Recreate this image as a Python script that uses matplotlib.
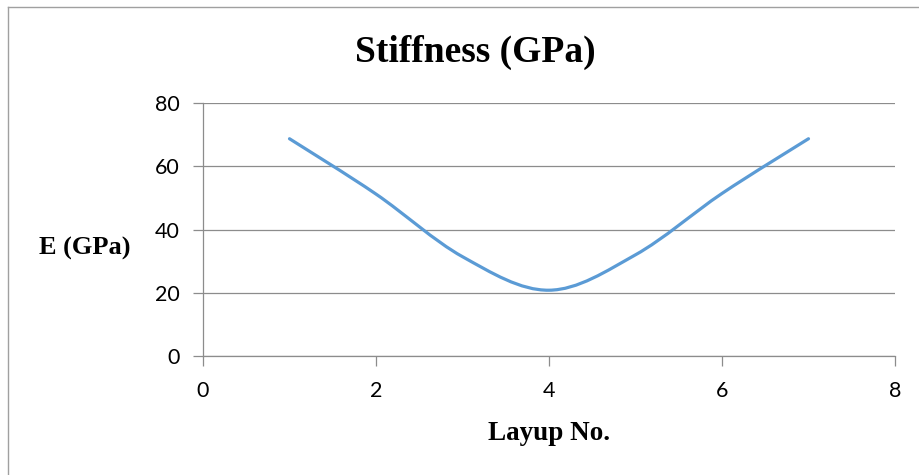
#!/usr/bin/env python3
"""Stiffness vs layup number, Excel-style smoothed scatter line."""

import numpy as np
import matplotlib
matplotlib.use("Agg")
import matplotlib.pyplot as plt
from matplotlib.path import Path
from matplotlib.patches import PathPatch

# data
layup_no = [1, 2, 3, 4, 5, 6, 7]
stiffness = [68.7, 51.2, 31.4, 20.8, 32.0, 51.4, 68.7]

x_ticks = [0, 2, 4, 6, 8]
y_ticks = [0, 20, 40, 60, 80]

title_text = "Stiffness (GPa)"
x_label = "Layup No."
y_label = "E (GPa)"

LINE_COLOR = "#5B9BD5"
GRID_COLOR = "#8C8C8C"
SERIF = "Liberation Serif"
SANS = "Lato"


def smooth_path(xs, ys):
    """Catmull-Rom style bezier path through the points (like Excel's smoothed line)."""
    pts = np.column_stack([xs, ys]).astype(float)
    ext = np.vstack([pts[0], pts, pts[-1]])
    verts = [pts[0]]
    codes = [Path.MOVETO]
    for i in range(1, len(ext) - 2):
        p0, p1, p2, p3 = ext[i - 1], ext[i], ext[i + 1], ext[i + 2]
        c1 = p1 + (p2 - p0) / 6.0
        c2 = p2 - (p3 - p1) / 6.0
        verts += [c1, c2, p2]
        codes += [Path.CURVE4] * 3
    return Path(verts, codes)


fig = plt.figure(figsize=(9.2, 4.75), dpi=100)
ax = fig.add_axes([203 / 920, 1 - 356 / 475, (895 - 203) / 920, (356 - 103) / 475])

patch = PathPatch(smooth_path(layup_no, stiffness), facecolor="none",
                  edgecolor=LINE_COLOR, lw=2.3, capstyle="round", zorder=3)
ax.add_patch(patch)

ax.set_xlim(x_ticks[0], x_ticks[-1])
ax.set_ylim(y_ticks[0], y_ticks[-1])
ax.set_xticks(x_ticks)
ax.set_yticks(y_ticks)
ax.tick_params(axis="both", direction="out", length=7, width=0.9,
               color=GRID_COLOR, labelsize=15.5)
ax.tick_params(axis="y", pad=10)
ax.tick_params(axis="x", pad=11)
for lab in ax.get_xticklabels() + ax.get_yticklabels():
    lab.set_family(SANS)

ax.grid(axis="y", color=GRID_COLOR, lw=0.9)
ax.set_axisbelow(True)
for side in ["top", "right"]:
    ax.spines[side].set_visible(False)
for side in ["left", "bottom"]:
    ax.spines[side].set_color(GRID_COLOR)
    ax.spines[side].set_linewidth(0.9)

fig.text(475 / 920, 1 - 52 / 475, title_text, family=SERIF, weight="bold",
         fontsize=27, ha="center", va="center")
fig.text(549 / 920, 1 - 433 / 475, x_label, family=SERIF, weight="bold",
         fontsize=19.5, ha="center", va="center")
fig.text(85 / 920, 1 - 248 / 475, y_label, family=SERIF, weight="bold",
         fontsize=19, ha="center", va="center")

# outer chart frame (only top and left edges are visible in the crop)
fig.add_artist(plt.Line2D([8 / 920, 1], [1 - 7 / 475] * 2,
                          transform=fig.transFigure, color="#A0A0A0", lw=1))
fig.add_artist(plt.Line2D([8 / 920] * 2, [0, 1 - 7 / 475],
                          transform=fig.transFigure, color="#A0A0A0", lw=1))

fig.savefig("out.png", dpi=100, facecolor="white")
